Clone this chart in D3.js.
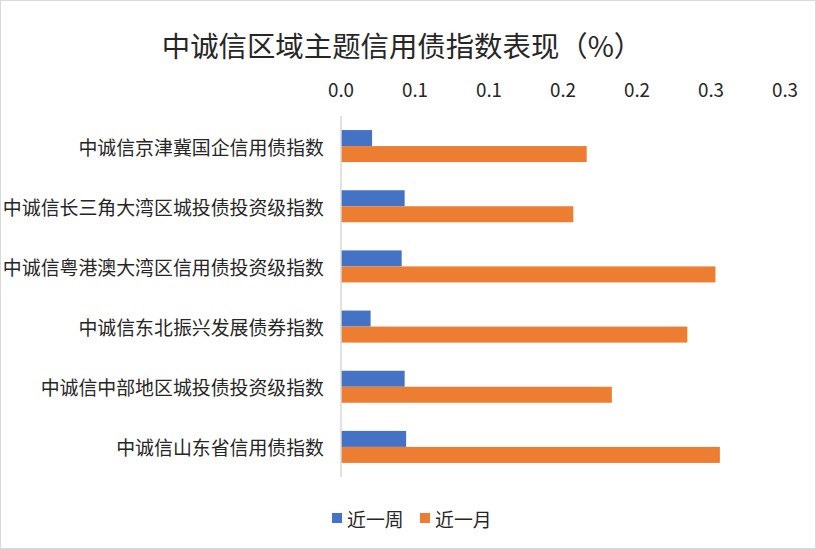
<!DOCTYPE html>
<html>
<head>
<meta charset="utf-8">
<script src="https://cdn.jsdelivr.net/npm/d3@7"></script>
<style>
  body { margin: 0; background: #fff; }
  text { font-family: "Noto Sans CJK SC", "Noto Sans", sans-serif; fill: #262626; }
</style>
</head>
<body>
<div id="chart"></div>
<script>
const categories = [
  '中诚信京津冀国企信用债指数',
  '中诚信长三角大湾区城投债投资级指数',
  '中诚信粤港澳大湾区信用债投资级指数',
  '中诚信东北振兴发展债券指数',
  '中诚信中部地区城投债投资级指数',
  '中诚信山东省信用债指数'
];
const seriesNames = ['近一周', '近一月'];
const weekValues = [0.021, 0.043, 0.041, 0.020, 0.043, 0.044];
const monthValues = [0.166, 0.157, 0.253, 0.234, 0.183, 0.256];
const tickValues = [0, 0.05, 0.1, 0.15, 0.2, 0.25, 0.3];
const tickLabels = ['0.0', '0.1', '0.1', '0.2', '0.2', '0.3', '0.3'];

const width = 816, height = 549;
const colors = ['#4472C4', '#ED7D31'];

const svg = d3.select('#chart').append('svg')
  .attr('width', width).attr('height', height);

// outer border
svg.append('rect')
  .attr('x', 0.5).attr('y', 0.5)
  .attr('width', width - 1).attr('height', height - 1)
  .attr('fill', '#fff').attr('stroke', '#d9d9d9');

svg.append('text')
  .attr('x', 402).attr('y', 44)
  .attr('text-anchor', 'middle')
  .attr('dominant-baseline', 'central')
  .style('font-size', '28.4px')
  .text('中诚信区域主题信用债指数表现（%）');

const x = d3.scaleLinear().domain([0, 0.3]).range([341, 785]);
const y = d3.scaleBand().domain(categories).range([116, 477])
  .paddingInner(0.468).paddingOuter(0.234);
const ySub = d3.scaleBand().domain(seriesNames).range([0, y.bandwidth()]);

// top axis labels
svg.append('g').selectAll('text')
  .data(tickValues)
  .join('text')
  .attr('x', d => x(d))
  .attr('y', 88)
  .attr('text-anchor', 'middle')
  .attr('dominant-baseline', 'central')
  .style('font-size', '18.8px')
  .text((d, i) => tickLabels[i]);

const rows = categories.map((c, i) => ({ c, vals: [weekValues[i], monthValues[i]] }));

const groups = svg.append('g').selectAll('g')
  .data(rows)
  .join('g')
  .attr('transform', d => `translate(0,${y(d.c)})`);

groups.selectAll('rect')
  .data(d => d.vals.map((v, k) => ({ v, k })))
  .join('rect')
  .attr('x', x(0))
  .attr('y', d => ySub(seriesNames[d.k]))
  .attr('width', d => x(d.v) - x(0))
  .attr('height', ySub.bandwidth())
  .attr('fill', d => colors[d.k]);

// category labels
svg.append('g').selectAll('text')
  .data(categories)
  .join('text')
  .attr('x', 324)
  .attr('y', d => y(d) + y.bandwidth() / 2)
  .attr('text-anchor', 'end')
  .attr('dominant-baseline', 'central')
  .style('font-size', '18.9px')
  .text(d => d);

// vertical axis line
svg.append('line')
  .attr('x1', x(0)).attr('x2', x(0))
  .attr('y1', 116).attr('y2', 477)
  .attr('stroke', '#d9d9d9').attr('stroke-width', 1.5);

// legend
const legend = svg.append('g').attr('transform', 'translate(332,518)');
const legendX = [0, 88];
seriesNames.forEach((name, i) => {
  const g = legend.append('g').attr('transform', `translate(${legendX[i]},0)`);
  g.append('rect').attr('x', 0).attr('y', -5).attr('width', 10).attr('height', 10).attr('fill', colors[i]);
  g.append('text').attr('x', 15).attr('y', 0)
    .attr('dominant-baseline', 'central')
    .style('font-size', '18.9px')
    .text(name);
});
</script>
</body>
</html>
